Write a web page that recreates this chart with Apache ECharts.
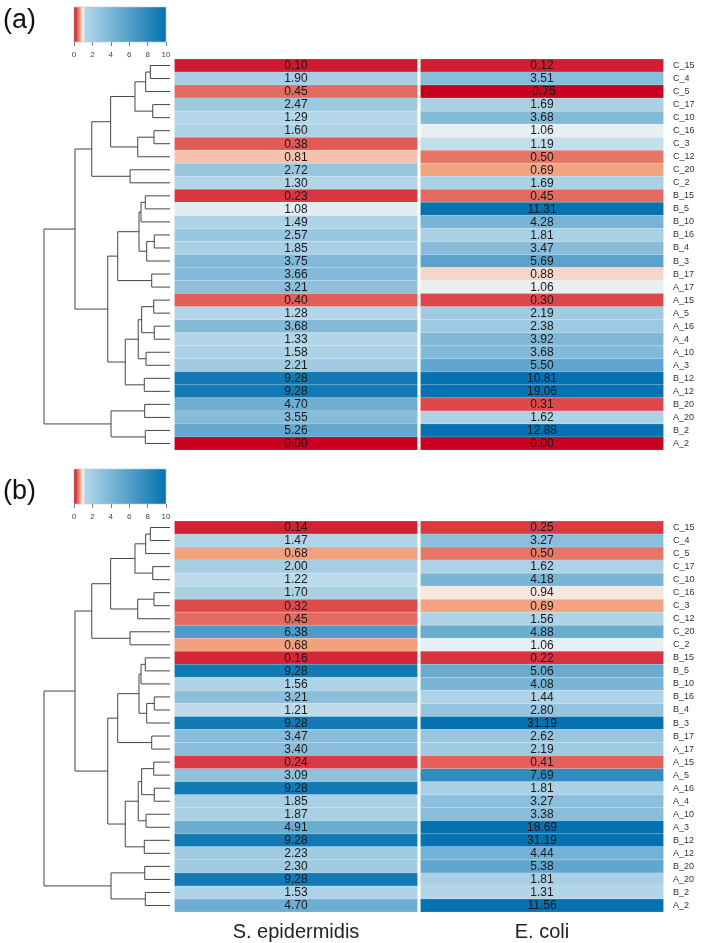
<!DOCTYPE html>
<html><head><meta charset="utf-8">
<script src="https://cdn.jsdelivr.net/npm/echarts@6/dist/echarts.min.js"></script>
<style>html,body{margin:0;padding:0;background:#fff}#c{width:708px;height:943px}</style>
</head><body><div id="c"></div>
<script>
// ---------- data ----------
const rowLabels = ['C_15','C_4','C_5','C_17','C_10','C_16','C_3','C_12','C_20','C_2',
  'B_15','B_5','B_10','B_16','B_4','B_3','B_17','A_17','A_15','A_5',
  'A_16','A_4','A_10','A_3','B_12','A_12','B_20','A_20','B_2','A_2'];
const colLabels = ['S. epidermidis','E. coli'];
const panelTags = ['(a)','(b)'];

const sEpiA = [0.10,1.90,0.45,2.47,1.29,1.60,0.38,0.81,2.72,1.30,
  0.23,1.08,1.49,2.57,1.85,3.75,3.66,3.21,0.40,1.28,
  3.68,1.33,1.58,2.21,9.28,9.28,4.70,3.55,5.26,0.00];
const eColiA = [0.12,3.51,-0.75,1.69,3.68,1.06,1.19,0.50,0.69,1.69,
  0.45,11.31,4.28,1.81,3.47,5.69,0.88,1.06,0.30,2.19,
  2.38,3.92,3.68,5.50,10.81,19.06,0.31,1.62,12.88,0.00];
const sEpiB = [0.14,1.47,0.68,2.00,1.22,1.70,0.32,0.45,6.38,0.68,
  0.16,9.28,1.56,3.21,1.21,9.28,3.47,3.40,0.24,3.09,
  9.28,1.85,1.87,4.91,9.28,2.23,2.30,9.28,1.53,4.70];
const eColiB = [0.25,3.27,0.50,1.62,4.18,0.94,0.69,1.56,4.88,1.06,
  0.22,5.06,4.08,1.44,2.80,31.19,2.62,2.19,0.41,7.69,
  1.81,3.27,3.38,18.69,31.19,4.44,5.38,1.81,1.31,11.56];

// dendrogram merges (hclust style: -i = leaf row i (1-based), +k = merge k)
const mergeLeft  = [-1, 1, -4, 2, -6, 5, 4, -9, 7, -11, 10, -14, 12, 11, -17, 14, -19, -21, 17, -23, 19, -25, 21, 16, 9, -27, -29, 26, 25];
const mergeRight = [-2, -3, -5, 3, -7, -8, 6, -10, 8, -12, -13, -15, -16, 13, -18, 15, -20, -22, 18, -24, 20, -26, 22, 23, 24, -28, -30, 27, 28];
const mergeHeight = [1.56, 1.93, 1.37, 2.78, 1.27, 2.56, 4.71, 3.17, 6.21, 1.96, 2.30, 1.25, 1.85, 2.46, 1.45, 4.15, 1.29, 1.25, 2.25, 1.90, 2.52, 2.04, 3.55, 4.94, 7.54, 2.01, 1.96, 4.68, 10.0];

// colour scale (value -> colour)
const scaleValues = [0, 0.7, 1.0, 1.25, 10];
const scaleColors = ['#CA0020', '#F4A582', '#F7F7F7', '#B4D6E8', '#0571B0'];
const scaleMin = 0, scaleMax = 10, scaleStep = 2;

// ---------- helpers ----------
function hex2rgb(h){ return [parseInt(h.substr(1,2),16), parseInt(h.substr(3,2),16), parseInt(h.substr(5,2),16)]; }
function colorFor(v){
  if (v <= scaleValues[0]) return scaleColors[0];
  const n = scaleValues.length;
  if (v >= scaleValues[n-1]) return scaleColors[n-1];
  for (let i = 0; i < n-1; i++){
    if (v <= scaleValues[i+1]){
      const f = (v - scaleValues[i]) / (scaleValues[i+1] - scaleValues[i]);
      const a = hex2rgb(scaleColors[i]), b = hex2rgb(scaleColors[i+1]);
      return 'rgb(' + a.map((x,k)=>Math.round(x + (b[k]-x)*f)).join(',') + ')';
    }
  }
}
function heatData(s, e){
  const d = [];
  for (let r = 0; r < rowLabels.length; r++){ d.push([0, r, s[r]]); d.push([1, r, e[r]]); }
  return d;
}
function dendroSegs(){
  const pos = [], hgt = [], segs = [];
  const info = ref => ref < 0 ? {y: -ref-1, h: 0} : {y: pos[ref-1], h: hgt[ref-1]};
  for (let k = 0; k < mergeLeft.length; k++){
    const a = info(mergeLeft[k]), b = info(mergeRight[k]), h = mergeHeight[k];
    segs.push([a.y, b.y, a.h, b.h, h]);
    pos.push((a.y + b.y) / 2); hgt.push(h);
  }
  return segs;
}
const FONT = '"Liberation Sans", Arial, sans-serif';

function renderCell(params, api){
  const c = api.value(0), r = api.value(1), v = api.value(2);
  const p = api.coord([c, r]); const s = api.size([1, 1]);
  const w = s[0], h = s[1];
  return {type: 'group', children: [
    {type: 'rect', shape: {x: p[0]-w/2+1.5, y: p[1]-h/2, width: w-3, height: h},
     style: {fill: colorFor(v), stroke: 'rgba(255,255,255,0.25)', lineWidth: 0.6}},
    {type: 'text', style: {text: v.toFixed(2), x: p[0], y: p[1]+0.5, align: 'center', verticalAlign: 'middle',
      fontSize: 12, fontFamily: FONT, fill: '#1a1a1a'}}
  ]};
}
function renderDendro(params, api){
  const y1 = api.value(0), y2 = api.value(1), h1 = api.value(2), h2 = api.value(3), h = api.value(4);
  const pts = [api.coord([h1, y1]), api.coord([h, y1]), api.coord([h, y2]), api.coord([h2, y2])];
  return {type: 'polyline', shape: {points: pts}, style: {stroke: '#454545', lineWidth: 1, fill: null}};
}
function renderBar(params, api){
  const p0 = api.coord([scaleMin, 1]), p1 = api.coord([scaleMax, 0]);
  const stops = scaleValues.map((v, i) => ({offset: (v - scaleMin)/(scaleMax - scaleMin), color: scaleColors[i]}));
  return {type: 'rect', shape: {x: p0[0], y: p0[1], width: p1[0]-p0[0], height: p1[1]-p0[1]},
    style: {fill: {type: 'linear', x: 0, y: 0, x2: 1, y2: 0, colorStops: stops}, stroke: '#c8c8c8', lineWidth: 0.6}};
}

// ---------- layout ----------
const heatTops = [59, 521];
const legTops = [7, 469];
const grids = [], xAxes = [], yAxes = [], series = [];
const segs = dendroSegs();
const heatSets = [[sEpiA, eColiA], [sEpiB, eColiB]];

for (let p = 0; p < 2; p++){
  // heatmap grid
  let gi = grids.length;
  grids.push({left: 173, width: 492, top: heatTops[p], height: 391});
  xAxes.push({type: 'category', gridIndex: gi, data: colLabels, position: 'bottom',
    axisLine: {show: false}, axisTick: {show: false},
    axisLabel: {show: p === 1, fontSize: 20, color: '#222', fontFamily: FONT, margin: 10}});
  yAxes.push({type: 'category', gridIndex: gi, data: rowLabels, inverse: true, position: 'right',
    axisLine: {show: false}, axisTick: {show: false},
    axisLabel: {fontSize: 9, color: '#333', fontFamily: FONT, margin: 8}});
  series.push({type: 'custom', xAxisIndex: gi, yAxisIndex: gi, data: heatData(heatSets[p][0], heatSets[p][1]),
    renderItem: renderCell, silent: true});

  // dendrogram grid
  gi = grids.length;
  grids.push({left: 44, width: 126, top: heatTops[p], height: 391});
  xAxes.push({type: 'value', gridIndex: gi, min: 0, max: mergeHeight[mergeHeight.length-1], inverse: true, show: false});
  yAxes.push({type: 'value', gridIndex: gi, min: -0.5, max: rowLabels.length - 0.5, inverse: true, show: false});
  series.push({type: 'custom', xAxisIndex: gi, yAxisIndex: gi, data: segs, renderItem: renderDendro, silent: true, clip: false});

  // colour key grid
  gi = grids.length;
  grids.push({left: 74, width: 92, top: legTops[p], height: 35});
  xAxes.push({type: 'value', gridIndex: gi, min: scaleMin, max: scaleMax, interval: scaleStep,
    splitLine: {show: false}, axisLine: {show: false},
    axisTick: {show: true, length: 4, lineStyle: {color: '#777'}},
    axisLabel: {fontSize: 8, color: '#444', fontFamily: FONT, margin: 9}});
  yAxes.push({type: 'value', gridIndex: gi, min: 0, max: 1, show: false});
  series.push({type: 'custom', xAxisIndex: gi, yAxisIndex: gi, data: [[0]], renderItem: renderBar, silent: true});
}

const chart = echarts.init(document.getElementById('c'), null, {renderer: 'canvas'});
chart.setOption({
  animation: false,
  backgroundColor: '#fff',
  grid: grids, xAxis: xAxes, yAxis: yAxes, series: series,
  graphic: [
    {type: 'text', x: 3, y: 21, style: {text: panelTags[0], fontSize: 27, fontFamily: FONT, fill: '#111', verticalAlign: 'middle'}},
    {type: 'text', x: 3, y: 492, style: {text: panelTags[1], fontSize: 27, fontFamily: FONT, fill: '#111', verticalAlign: 'middle'}}
  ]
});
</script></body></html>
